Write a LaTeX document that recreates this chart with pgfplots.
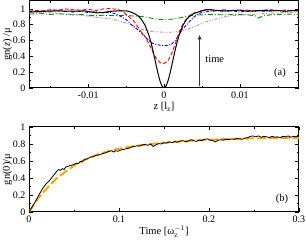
\documentclass[border=0pt]{standalone}
\usepackage{fontspec}
\setmainfont{Liberation Serif}
\usepackage{pgfplots}
\pgfplotsset{compat=1.18}
\usetikzlibrary{arrows.meta}
\definecolor{myred}{RGB}{255,0,0}
\definecolor{myblue}{RGB}{0,0,255}
\definecolor{mygreen}{RGB}{0,140,0}
\definecolor{mypink}{RGB}{188,143,143}
\definecolor{myorange}{RGB}{255,165,0}
\begin{document}
\begin{tikzpicture}
\path[use as bounding box] (0,0) rectangle (306pt,244pt);
\pgfplotsset{
  mystyle/.style={
    scale only axis, width=270pt, anchor=south west,
    axis line style={line width=1pt},
    tick align=inside, xtick pos=both, ytick pos=both,
    major tick length=3.5pt, minor tick length=2pt,
    tick style={black, line width=0.5pt},
    scaled x ticks=false, scaled y ticks=false,
    /pgf/number format/assume math mode=true,
    tick label style={font=\fontsize{10}{12}\selectfont},
    label style={font=\fontsize{10.5}{12}\selectfont},
    ytick={0,0.2,0.4,0.6,0.8,1}, yticklabels={0,0.2,0.4,0.6,0.8,1},
    minor y tick num=1,
    ylabel style={yshift=-6pt},
    xlabel style={yshift=3pt},
  }
}
\begin{axis}[mystyle, at={(29pt,156pt)}, height=87pt,
  xmin=-0.0178, xmax=0.0178, ymin=0, ymax=1.1,
  xtick={-0.01,0,0.01}, xticklabels={-0.01,0,0.01},
  minor xtick={-0.015,-0.005,0.005,0.015},
  xlabel={z [l\textsubscript{z}]}, ylabel={gn(\textit{z}) /μ}]
\addplot[mygreen, line width=0.9pt, dash pattern=on 5pt off 2pt on 1pt off 2pt] coordinates {
(-0.0178,0.935)(-0.016,0.94)(-0.015,0.93)(-0.014,0.94)(-0.012,0.925)(-0.011,0.93)(-0.010,0.92)(-0.009,0.915)(-0.008,0.92)(-0.007,0.915)(-0.006,0.92)(-0.005,0.915)(-0.004,0.91)(-0.003,0.905)(-0.002,0.89)(-0.001,0.87)(0,0.865)(0.001,0.87)(0.002,0.885)(0.003,0.905)(0.004,0.92)(0.005,0.925)(0.006,0.93)(0.008,0.925)(0.010,0.93)(0.011,0.925)(0.012,0.915)(0.0125,0.885)(0.013,0.91)(0.014,0.925)(0.015,0.93)(0.016,0.935)(0.0178,0.93)};
\addplot[mypink, line width=0.9pt, dash pattern=on 3pt off 1.5pt on 1pt off 1.5pt on 1pt off 1.5pt] coordinates {
(-0.0178,0.95)(-0.016,0.955)(-0.014,0.945)(-0.012,0.93)(-0.011,0.92)(-0.010,0.91)(-0.009,0.895)(-0.008,0.885)(-0.007,0.875)(-0.006,0.85)(-0.005,0.82)(-0.004,0.785)(-0.003,0.745)(-0.002,0.72)(-0.001,0.71)(0,0.705)(0.001,0.705)(0.002,0.715)(0.003,0.74)(0.004,0.775)(0.005,0.815)(0.006,0.85)(0.007,0.875)(0.008,0.9)(0.009,0.915)(0.010,0.92)(0.011,0.93)(0.012,0.93)(0.013,0.94)(0.014,0.945)(0.015,0.95)(0.016,0.955)(0.017,0.955)(0.0178,0.96)};
\addplot[myblue, line width=0.9pt, dash pattern=on 3pt off 1.5pt on 1pt off 1.5pt] coordinates {
(-0.0178,0.965)(-0.016,0.97)(-0.014,0.975)(-0.012,0.96)(-0.011,0.97)(-0.010,0.955)(-0.009,0.965)(-0.008,0.95)(-0.007,0.955)(-0.0065,0.94)(-0.006,0.92)(-0.0055,0.895)(-0.005,0.865)(-0.0045,0.82)(-0.004,0.775)(-0.0035,0.74)(-0.003,0.70)(-0.0025,0.65)(-0.002,0.60)(-0.0015,0.565)(-0.001,0.55)(-0.0005,0.54)(0,0.535)(0.0005,0.54)(0.001,0.555)(0.0015,0.60)(0.002,0.68)(0.0025,0.75)(0.003,0.80)(0.0035,0.855)(0.004,0.90)(0.0045,0.935)(0.005,0.955)(0.006,0.97)(0.007,0.975)(0.008,0.97)(0.009,0.975)(0.010,0.96)(0.011,0.975)(0.012,0.98)(0.013,0.97)(0.014,0.975)(0.015,0.98)(0.016,0.97)(0.017,0.98)(0.0178,0.985)};
\addplot[myred, line width=0.9pt, dash pattern=on 4pt off 2pt] coordinates {
(-0.0178,0.97)(-0.017,0.98)(-0.016,0.975)(-0.015,0.99)(-0.014,0.985)(-0.013,1.0)(-0.012,0.99)(-0.011,0.985)(-0.010,0.995)(-0.009,0.98)(-0.008,1.0)(-0.007,1.005)(-0.006,0.99)(-0.0055,0.97)(-0.005,0.93)(-0.0045,0.89)(-0.004,0.85)(-0.0035,0.78)(-0.003,0.71)(-0.0025,0.65)(-0.002,0.56)(-0.0015,0.46)(-0.001,0.37)(-0.0005,0.32)(0,0.31)(0.0005,0.34)(0.001,0.43)(0.0015,0.56)(0.002,0.71)(0.0025,0.81)(0.003,0.88)(0.0035,0.92)(0.004,0.95)(0.0045,0.96)(0.005,0.98)(0.006,0.99)(0.007,0.98)(0.008,0.99)(0.009,0.975)(0.010,0.98)(0.011,0.985)(0.012,0.97)(0.013,0.985)(0.014,0.99)(0.015,0.98)(0.016,0.985)(0.017,0.975)(0.0178,0.98)};
\addplot[black, line width=1pt] coordinates {
(-0.0178,0.96)(-0.016,0.97)(-0.014,0.975)(-0.012,0.97)(-0.0105,0.975)(-0.0095,0.96)(-0.0088,0.95)(-0.008,0.955)(-0.007,0.97)(-0.006,0.975)(-0.005,0.975)(-0.0045,0.965)(-0.004,0.945)(-0.0035,0.918)(-0.003,0.871)(-0.0025,0.794)(-0.002,0.669)(-0.00175,0.587)(-0.0015,0.49)(-0.00125,0.384)(-0.001,0.274)(-0.00075,0.168)(-0.0005,0.08)(-0.00025,0.021)(0,0)(0.00025,0.021)(0.0005,0.08)(0.00075,0.168)(0.001,0.274)(0.00125,0.384)(0.0015,0.49)(0.00175,0.587)(0.002,0.669)(0.0025,0.794)(0.003,0.871)(0.0035,0.918)(0.004,0.945)(0.0045,0.96)(0.005,0.975)(0.0055,0.99)(0.006,0.99)(0.007,0.98)(0.008,0.975)(0.009,0.98)(0.010,0.985)(0.011,0.97)(0.012,0.975)(0.013,0.98)(0.014,0.975)(0.015,0.98)(0.016,0.97)(0.017,0.98)(0.0178,0.975)};
\draw[line width=1.2pt, black!80, -{Stealth[length=5pt,width=4pt]}] (axis cs:0.0047,0.02) -- (axis cs:0.0047,0.67);
\node[anchor=west, font=\fontsize{10.5}{12}\selectfont] at (axis cs:0.0050,0.36) {time};
\node[font=\fontsize{10.5}{12}\selectfont] at (axis cs:0.0153,0.19) {(a)};
\end{axis}
\begin{axis}[mystyle, at={(29pt,32pt)}, height=85pt,
  xmin=0, xmax=0.3, ymin=0, ymax=1,
  xtick={0,0.1,0.2,0.3}, xticklabels={0,0.1,0.2,0.3},
  minor xtick={0.05,0.15,0.25},
  xlabel={Time [ω$_{\mathrm{z}}^{-1}$]}, ylabel={gn(0)/μ}]
\addplot[myorange, line width=2pt, dash pattern=on 9pt off 3pt] coordinates {
(0,0)(0.01,0.16)(0.02,0.28)(0.03,0.39)(0.04,0.47)(0.05,0.545)(0.06,0.605)(0.07,0.65)(0.08,0.69)(0.09,0.72)(0.1,0.745)(0.12,0.78)(0.14,0.805)(0.16,0.825)(0.18,0.84)(0.2,0.85)(0.22,0.858)(0.24,0.864)(0.26,0.868)(0.28,0.871)(0.3,0.873)};
\addplot[black, line width=0.8pt] coordinates {
(0,0)(0.004,0.07)(0.008,0.14)(0.012,0.22)(0.016,0.29)(0.019,0.33)(0.022,0.36)(0.025,0.40)(0.028,0.44)(0.031,0.48)(0.033,0.50)(0.035,0.49)(0.037,0.51)(0.039,0.50)(0.041,0.53)(0.044,0.54)(0.047,0.55)(0.050,0.56)(0.053,0.575)(0.055,0.57)(0.057,0.595)(0.059,0.59)(0.062,0.62)(0.065,0.625)(0.068,0.645)(0.071,0.65)(0.074,0.665)(0.077,0.67)(0.080,0.68)(0.083,0.69)(0.086,0.70)(0.089,0.715)(0.092,0.72)(0.094,0.705)(0.096,0.72)(0.099,0.715)(0.102,0.73)(0.105,0.735)(0.108,0.745)(0.111,0.75)(0.114,0.765)(0.117,0.77)(0.120,0.78)(0.123,0.775)(0.126,0.79)(0.129,0.795)(0.132,0.785)(0.135,0.80)(0.138,0.77)(0.141,0.79)(0.144,0.805)(0.147,0.80)(0.150,0.815)(0.153,0.81)(0.156,0.825)(0.159,0.815)(0.162,0.83)(0.165,0.82)(0.168,0.835)(0.171,0.84)(0.174,0.825)(0.177,0.835)(0.180,0.85)(0.183,0.84)(0.186,0.83)(0.189,0.845)(0.192,0.84)(0.195,0.855)(0.198,0.86)(0.201,0.845)(0.204,0.84)(0.207,0.825)(0.210,0.845)(0.213,0.85)(0.216,0.845)(0.219,0.855)(0.222,0.85)(0.225,0.86)(0.228,0.855)(0.231,0.865)(0.234,0.86)(0.237,0.855)(0.240,0.87)(0.243,0.875)(0.246,0.89)(0.249,0.895)(0.252,0.885)(0.255,0.895)(0.258,0.88)(0.261,0.89)(0.264,0.885)(0.267,0.875)(0.270,0.89)(0.273,0.88)(0.276,0.885)(0.279,0.875)(0.282,0.89)(0.285,0.885)(0.288,0.895)(0.291,0.88)(0.294,0.89)(0.297,0.885)(0.300,0.9)};
\node[font=\fontsize{10.5}{12}\selectfont] at (axis cs:0.281,0.15) {(b)};
\end{axis}
\end{tikzpicture}
\end{document}
